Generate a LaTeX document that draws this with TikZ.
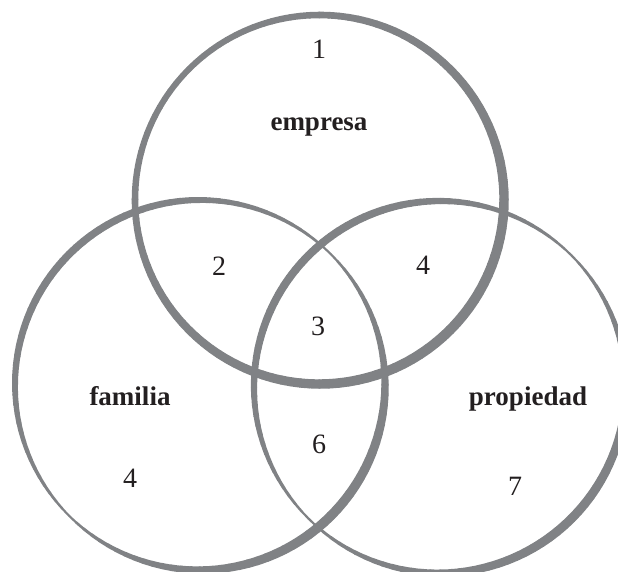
\documentclass[tikz,border=0pt]{standalone}
\usepackage{fontspec}
\setmainfont{Liberation Serif}
\definecolor{ringgrey}{HTML}{808285}
\definecolor{inkc}{HTML}{231F20}
\begin{document}
\begin{tikzpicture}[x=1pt,y=-1pt,
  lbl/.style={font=\fontsize{27}{30}\selectfont\bfseries, text=inkc, anchor=base, inner sep=0pt},
  num/.style={font=\fontsize{28}{30}\selectfont, text=inkc, anchor=base, inner sep=0pt},
  ring/.style={draw=ringgrey, line cap=round}]
\useasboundingbox (0,0) rectangle (618,571);
\coordinate (cT) at (319.5,199.5);
\coordinate (cL) at (200,385);
\coordinate (cR) at (440,387);
% top circle: nearly uniform, slightly heavier at lower right
\foreach \a in {0,3,...,357}{
  \pgfmathsetmacro\w{8+2*cos(\a+1.5-45)}
  \draw[ring, line width=\w pt] (cT) ++(\a:184.5) arc[start angle=\a, delta angle=3, radius=184.5];
}
% left circle: calligraphic stroke
\foreach \a in {0,3,...,357}{
  \pgfmathsetmacro\w{2+6.5*abs(sin(\a+1.5+45))+1*cos(\a+1.5-45)}
  \draw[ring, line width=\w pt] (cL) ++(\a:185) arc[start angle=\a, delta angle=3, radius=185];
}
% right circle: calligraphic stroke
\foreach \a in {0,3,...,357}{
  \pgfmathsetmacro\w{2+6.5*abs(sin(\a+1.5+45))+0.5*cos(\a+1.5-45)}
  \draw[ring, line width=\w pt] (cR) ++(\a:186) arc[start angle=\a, delta angle=3, radius=186];
}
\node[num] (n1) at (319,58) {1};
\node[lbl] (emp) at (319,130) {empresa};
\node[num] (n2) at (219,275) {2};
\node[num] (n4a) at (423,274) {4};
\node[num] (n3) at (318,335) {3};
\node[lbl] (fam) at (130,405) {familia};
\node[lbl] (prop) at (528,405) {propiedad};
\node[num] (n6) at (319,453) {6};
\node[num] (n4b) at (130,487) {4};
\node[num] (n7) at (515,495) {7};
\end{tikzpicture}
\end{document}
